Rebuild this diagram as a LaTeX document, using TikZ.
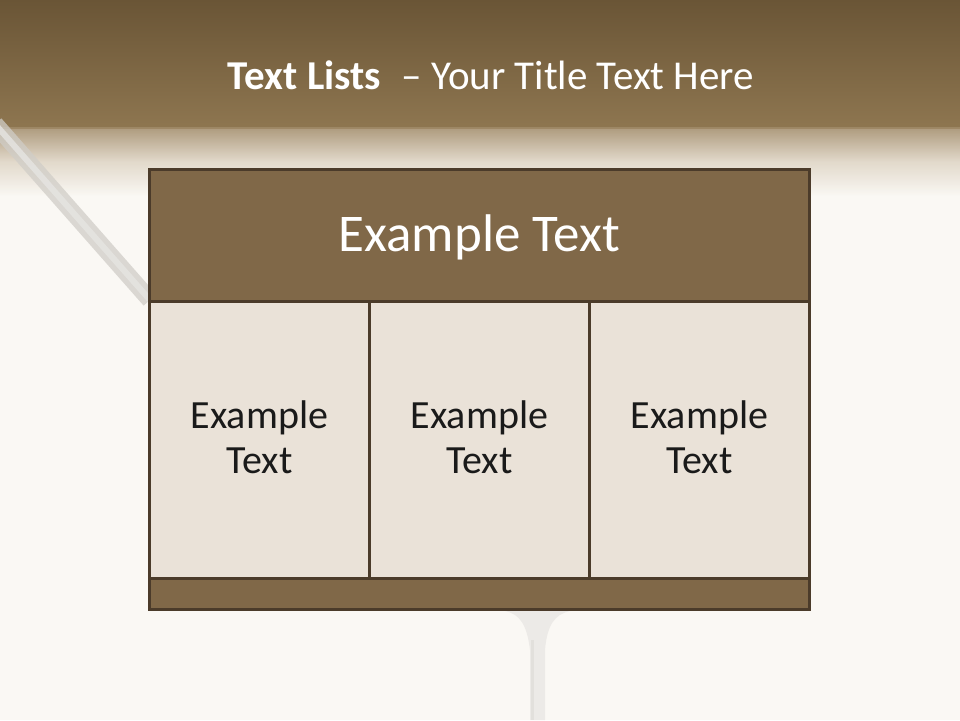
\documentclass[tikz,border=0pt]{standalone}
\usepackage{fontspec}
\setmainfont{Carlito}
\definecolor{bgc}{HTML}{FAF8F4}
\definecolor{topA}{HTML}{6A5536}
\definecolor{topB}{HTML}{8E7650}
\definecolor{brownfill}{HTML}{806848}
\definecolor{cellfill}{HTML}{EAE2D8}
\definecolor{edgec}{HTML}{4B3B2A}
\definecolor{txt}{HTML}{1A1A1A}
\tikzset{
  tbl/.style={draw=edgec, line width=3pt},
  headbox/.style={tbl, fill=brownfill},
  cellbox/.style={tbl, fill=cellfill},
  celltext/.style={text=txt, font=\fontsize{40}{45}\selectfont, align=center},
  headtext/.style={text=white, font=\fontsize{53}{62}\selectfont},
}
\begin{document}
\begin{tikzpicture}[x=1pt,y=-1pt]
\useasboundingbox (0,0) rectangle (960,720);
% background
\fill[bgc] (0,0) rectangle (960,720);
% top band
\shade[top color=topA, bottom color=topB] (0,0) rectangle (960,128);
\shade[top color={rgb,255:red,160;green,138;blue,104}, bottom color=bgc, middle color={rgb,255:red,222;green,212;blue,196}, opacity=0.85] (0,127) rectangle (960,196);
% diagonal bar
\draw[line width=17pt, color={rgb,255:red,208;green,205;blue,199}, opacity=0.75] (-5,124) -- (150,300);
\draw[line width=6pt, color={rgb,255:red,230;green,229;blue,226}, opacity=0.8] (-5,124) -- (150,300);
% stem
\fill[color={rgb,255:red,236;green,234;blue,231}] (505,611) .. controls (520,614) and (527,625) .. (530,650) -- (530,720) -- (545,720) -- (545,650) .. controls (547,625) and (555,614) .. (570,611) -- cycle;
\fill[color={rgb,255:red,226;green,224;blue,220}] (531,640) rectangle (534,720);
% title
\node[text=white, font=\fontsize{41}{48}\selectfont, anchor=center] (title) at (491,75) {\textbf{Text Lists}\enspace – Your Title Text Here};
% table
\node[headbox, minimum width=660pt, minimum height=132pt, anchor=north west, inner sep=0pt] (head) at (148,168) {};
\node[cellbox, minimum width=220pt, minimum height=277pt, anchor=north west, inner sep=0pt] (c1) at (148,300) {};
\node[cellbox, minimum width=220pt, minimum height=277pt, anchor=north west, inner sep=0pt] (c2) at (368,300) {};
\node[cellbox, minimum width=220pt, minimum height=277pt, anchor=north west, inner sep=0pt] (c3) at (588,300) {};
\node[headbox, minimum width=660pt, minimum height=31pt, anchor=north west, inner sep=0pt] (foot) at (148,577) {};
% texts
\node[headtext] (headlabel) at ([yshift=-2pt]head.center) {Example Text};
\node[celltext] (t1) at ([yshift=3pt]c1.center) {Example\\Text};
\node[celltext] (t2) at ([yshift=3pt]c2.center) {Example\\Text};
\node[celltext] (t3) at ([yshift=3pt]c3.center) {Example\\Text};
\end{tikzpicture}
\end{document}
